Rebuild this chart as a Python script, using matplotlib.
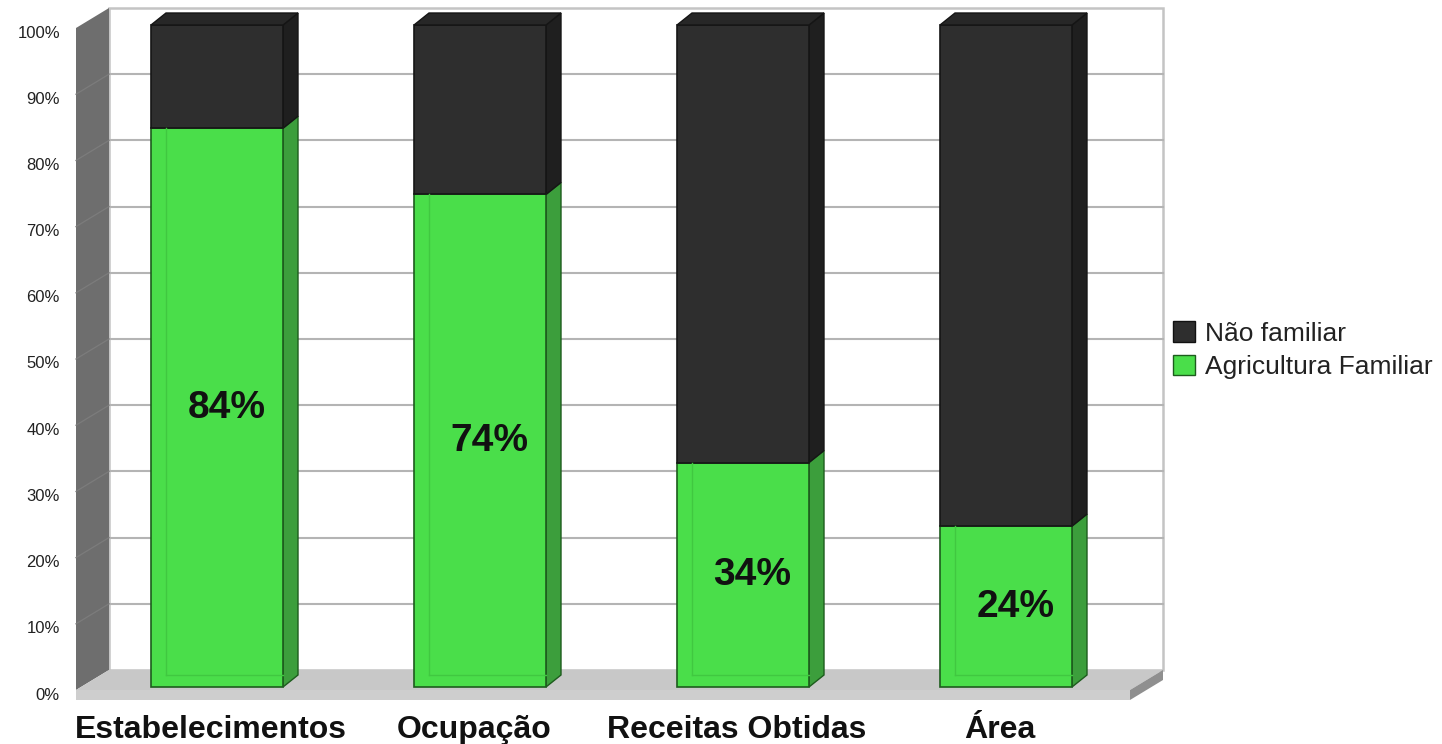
import matplotlib
matplotlib.use("Agg")
import matplotlib.pyplot as plt
from matplotlib.patches import Polygon, Rectangle, Patch
from matplotlib.transforms import ScaledTranslation

categories = ['Estabelecimentos', 'Ocupação', 'Receitas Obtidas', 'Área']
familiar = [84.4, 74.4, 33.9, 24.3]
nao_familiar = [100 - v for v in familiar]
series_names = ['Não familiar', 'Agricultura Familiar']
y_ticks = [0, 10, 20, 30, 40, 50, 60, 70, 80, 90, 100]
tick_labels = [f'{t}%' for t in y_ticks]

plt.rcParams['font.family'] = ['Liberation Sans', 'DejaVu Sans']

GREEN = '#4ade4a'
GREEN_SIDE = '#3c9e3c'
GREEN_EDGE = '#1d5c1d'
BLACK = '#2e2e2e'
BLACK_SIDE = '#1f1f1f'
BLACK_TOP = '#272727'
BLACK_EDGE = '#151515'

W, H = 1442, 744
fig = plt.figure(figsize=(W / 100, H / 100), dpi=100)
ax = fig.add_axes([0, 0, 1, 1])

# scale: px per category step and px per percent, origin of the front plane
SX = 263.0
SY = 6.62
X0 = 217
Y0 = 54
ax.set_xlim(-X0 / SX, (W - X0) / SX)
ax.set_ylim(-Y0 / SY, (H - Y0) / SY)
ax.axis('off')


def px(dx, dy):
    return dx / SX, dy / SY


xl, _ = px(-141, 0)
xr, _ = px(913, 0)
WDX, WDY = px(33, 20)      # wall depth
BW, _ = px(132, 0)         # bar width
_, BFY = px(0, 3)          # bar front above wall front
BDX, BDY = px(15, 12)      # bar depth
_, FT = px(0, 10)          # floor thickness

# back wall
ax.add_patch(Rectangle((xl + WDX, WDY), xr - xl, 100, fc='white', ec='#c4c4c4', lw=1.8, zorder=1))
for t in y_ticks[1:-1]:
    ax.plot([xl + WDX, xr + WDX], [t + WDY, t + WDY], color='#b4b4b4', lw=1.5, zorder=2)

# left wall
ax.add_patch(Polygon([(xl, 0), (xl + WDX, WDY), (xl + WDX, 100 + WDY), (xl, 100)],
                     closed=True, fc='#6e6e6e', ec='none', zorder=2))
for t in y_ticks[1:-1]:
    ax.plot([xl, xl + WDX], [t, t + WDY], color='#7c7c7c', lw=0.9, zorder=2)

# floor
ax.add_patch(Polygon([(xl, 0), (xr, 0), (xr + WDX, WDY), (xl + WDX, WDY)],
                     closed=True, fc='#c8c8c8', ec='none', zorder=3))
ax.add_patch(Rectangle((xl, -FT), xr - xl, FT, fc='#cecece', ec='none', zorder=3))
ax.add_patch(Polygon([(xr, -FT), (xr, 0), (xr + WDX, WDY), (xr + WDX, WDY - FT)],
                     closed=True, fc='#8f8f8f', ec='none', zorder=3))

# bars
for i, (g, n) in enumerate(zip(familiar, nao_familiar)):
    x0 = i - BW / 2
    x1 = i + BW / 2
    segs = [(BFY, BFY + g, GREEN, GREEN_SIDE, GREEN_EDGE),
            (BFY + g, BFY + g + n, BLACK, BLACK_SIDE, BLACK_EDGE)]
    for lo, hi, fc, sc, ec in segs:
        ax.add_patch(Polygon([(x1, lo), (x1 + BDX, lo + BDY), (x1 + BDX, hi + BDY), (x1, hi)],
                             closed=True, fc=sc, ec=ec, lw=1.0, zorder=4))
        ax.add_patch(Rectangle((x0, lo), BW, hi - lo, fc=fc, ec=ec, lw=1.2, zorder=5))
    top = BFY + 100
    ax.add_patch(Polygon([(x0, top), (x0 + BDX, top + BDY), (x1 + BDX, top + BDY), (x1, top)],
                         closed=True, fc=BLACK_TOP, ec=BLACK_EDGE, lw=1.0, zorder=5))
    # back edges seen through the green front
    ax.plot([x0 + BDX, x0 + BDX], [BFY + BDY, BFY + g], color='#40c840', lw=1.0, zorder=6)
    ax.plot([x0 + BDX, x1], [BFY + BDY, BFY + BDY], color='#40c840', lw=1.0, zorder=6)

    ax.text(i + BDX / 2 + px(2, 0)[0], BFY + g / 2 + BDY / 2 - px(0, 6)[1], f'{round(g)}%',
            ha='center', va='center', fontsize=28, fontweight='bold', color='#111111', zorder=10)
    ax.text(i - px(6, 0)[0], -px(0, 48)[1], categories[i], ha='center', va='baseline',
            fontsize=23, fontweight='bold', color='#111111', zorder=10)

# y tick labels on the wall front
shift = ax.transData + ScaledTranslation(0, -5 / 100, fig.dpi_scale_trans)
for t, lab in zip(y_ticks, tick_labels):
    ax.text(xl - px(16, 0)[0], t, lab, ha='right', va='center', fontsize=12,
            color='#222222', transform=shift, zorder=10)

handles = [Patch(fc=BLACK, ec='#111111', lw=1.0), Patch(fc=GREEN, ec=GREEN_EDGE, lw=1.0)]
leg = ax.legend(handles, series_names, loc='upper left', bbox_to_anchor=(1173 / W, 1 - 321 / H),
                bbox_transform=fig.transFigure, frameon=False, fontsize=19,
                handlelength=0.83, handleheight=0.83, handletextpad=0.38,
                labelspacing=0.35, borderpad=0, borderaxespad=0)
for txt in leg.get_texts():
    txt.set_color('#222222')

fig.savefig('out.png', dpi=100, facecolor='white')
